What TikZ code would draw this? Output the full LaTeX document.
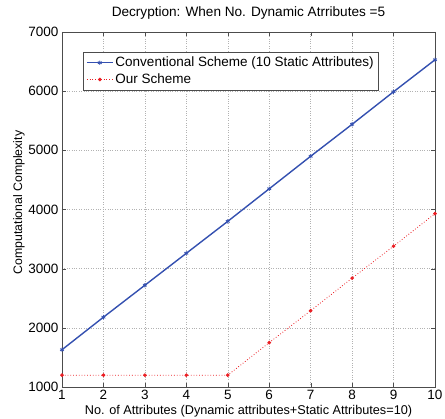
\documentclass[tikz,border=0pt]{standalone}
\usepackage{fontspec}
\setmainfont{Liberation Sans}
\usepackage{xcolor}
\usepackage{pgfplots}
\pgfplotsset{compat=1.18}

\definecolor{convblue}{RGB}{52,80,176}
\definecolor{ourred}{RGB}{235,30,35}

% Longer line sample in the legend
\pgfplotsset{
    legend image code/.code={\draw[mark repeat=2,mark phase=2,#1]
        plot coordinates {(0pt,0pt) (13pt,0pt) (26pt,0pt)};},
}

\begin{document}
\begin{tikzpicture}[x=1pt,y=1pt]
        % Page size of the reference
        \useasboundingbox (0,0) rectangle (445,419);

        \begin{axis}[
            at={(62pt,32pt)}, anchor=origin,
            scale only axis, width=373pt, height=355pt,
            xmin=1, xmax=10, ymin=1000, ymax=7000,
            xtick={1,...,10}, ytick={1000,2000,...,7000},
            scaled y ticks=false,
            xticklabel={\pgfmathprintnumber[assume math mode=true]{\tick}},
            yticklabel={\pgfmathprintnumber[assume math mode=true,1000 sep={},fixed,precision=0]{\tick}},
            tick align=inside, major tick length=4pt,
            axis line style={black!70}, tick style={black!70},
            grid=major, grid style={dotted, black!30},
            font=\fontsize{13.5}{15}\selectfont,
            title={Decryption: When No. Dynamic Atrributes =5},
            title style={at={(0.5,1)}, anchor=center, yshift=13pt,
                font=\fontsize{13.6}{15}\selectfont},
            xlabel={No. of Attributes (Dynamic attributes+Static Attributes=10)},
            xlabel style={at={(0.5,0)}, anchor=center, yshift=-24pt,
                font=\fontsize{12.7}{14}\selectfont},
            ylabel={Computational Complexity},
            ylabel style={at={(0,0.5)}, anchor=center, yshift=43pt, xshift=7pt,
                font=\fontsize{12.3}{14}\selectfont},
            legend style={at={(0.056,0.944)}, anchor=north west,
                draw=black!70, inner sep=3pt, row sep=1.5pt,
                font=\fontsize{13.5}{15}\selectfont},
            legend cell align=left,
        ]
        % Conventional scheme
        \addplot[convblue, line width=1.4pt, mark=asterisk, mark size=2.2pt,
            mark options={line width=0.8pt}]
            coordinates {(1,1630) (2,2180) (3,2720) (4,3260) (5,3800)
                (6,4350) (7,4900) (8,5440) (9,5990) (10,6530)};
        \addlegendentry{Conventional Scheme (10 Static Attributes)}

        % Our scheme
        \addplot[ourred, line width=0.8pt, dotted, mark=*, mark size=1.4pt,
            mark options={solid}]
            coordinates {(1,1200) (2,1200) (3,1200) (4,1200) (5,1200)
                (6,1750) (7,2290) (8,2840) (9,3380) (10,3930)};
        \addlegendentry{Our Scheme}
        \end{axis}
    \end{tikzpicture}
\end{document}
